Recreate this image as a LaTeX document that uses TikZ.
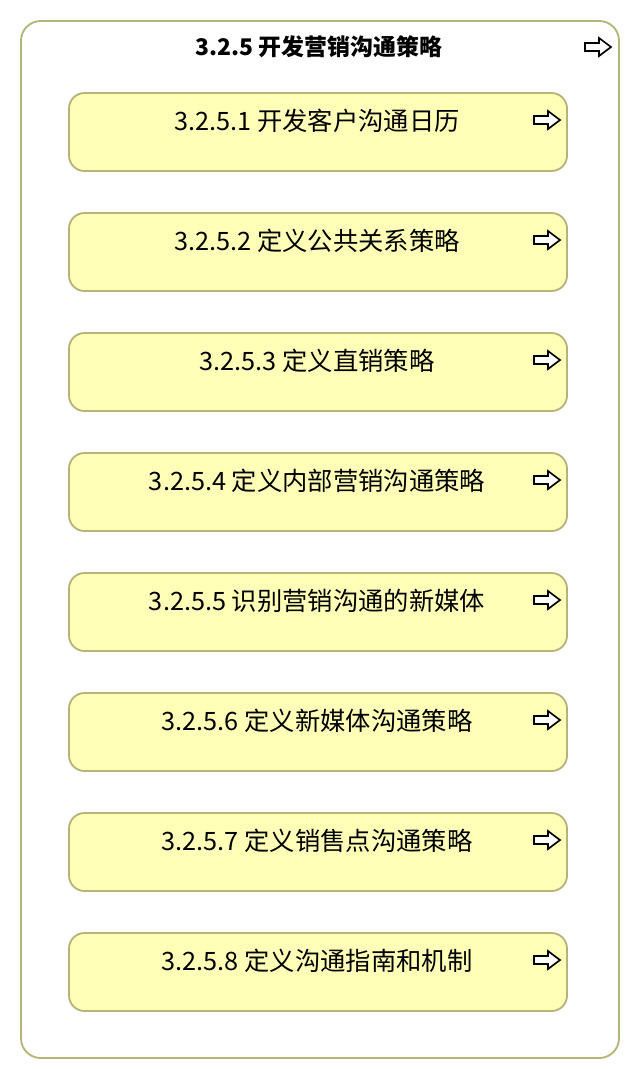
\documentclass[tikz,border=0pt]{standalone}
\usepackage{fontspec}
\setmainfont{Noto Sans CJK SC}
\usepackage{tikz}
\definecolor{boxline}{RGB}{180,180,122}
\definecolor{boxfill}{RGB}{255,255,183}

\tikzset{
  groupbox/.style={draw=boxline,line width=1.3pt,rounded corners=14pt,fill=white,
    minimum width=598*0.025cm,minimum height=1037*0.025cm,inner sep=0pt},
  stepbox/.style={draw=boxline,line width=1.3pt,rounded corners=11pt,fill=boxfill,
    minimum width=498*0.025cm,minimum height=78*0.025cm,inner sep=0pt},
  steptext/.style={font=\fontsize{18}{20}\selectfont,inner sep=0pt},
  gototext/.style={font=\bfseries\fontsize{16.3}{18}\selectfont,inner sep=0pt},
  pics/gotoarrow/.style={code={
    \draw[line width=1.2pt,line join=miter,fill=white]
      (-13,-4) -- (1,-4) -- (1,-9) -- (13,0) -- (1,9) -- (1,4) -- (-13,4) -- cycle;
  }}
}

\begin{document}
\begin{tikzpicture}[x=0.025cm,y=-0.025cm]
\useasboundingbox (0,0) rectangle (640,1080);

\node[groupbox] (grp) at (320,539.5) {};
\node[gototext] (title) at (319,47) {3.2.5 开发营销沟通策略};
\pic at (598,47) {gotoarrow};

% steps
\node[stepbox] (s1) at (318,132) {};
\node[steptext] (t1) at (317,121) {3.2.5.1 开发客户沟通日历};
\pic at (547,120) {gotoarrow};

\node[stepbox] (s2) at (318,252) {};
\node[steptext] (t2) at (317,241) {3.2.5.2 定义公共关系策略};
\pic at (547,240) {gotoarrow};

\node[stepbox] (s3) at (318,372) {};
\node[steptext] (t3) at (317,361) {3.2.5.3 定义直销策略};
\pic at (547,360) {gotoarrow};

\node[stepbox] (s4) at (318,492) {};
\node[steptext] (t4) at (317,481) {3.2.5.4 定义内部营销沟通策略};
\pic at (547,480) {gotoarrow};

\node[stepbox] (s5) at (318,612) {};
\node[steptext] (t5) at (317,601) {3.2.5.5 识别营销沟通的新媒体};
\pic at (547,600) {gotoarrow};

\node[stepbox] (s6) at (318,732) {};
\node[steptext] (t6) at (317,721) {3.2.5.6 定义新媒体沟通策略};
\pic at (547,720) {gotoarrow};

\node[stepbox] (s7) at (318,852) {};
\node[steptext] (t7) at (317,841) {3.2.5.7 定义销售点沟通策略};
\pic at (547,840) {gotoarrow};

\node[stepbox] (s8) at (318,972) {};
\node[steptext] (t8) at (317,961) {3.2.5.8 定义沟通指南和机制};
\pic at (547,960) {gotoarrow};
\end{tikzpicture}
\end{document}
